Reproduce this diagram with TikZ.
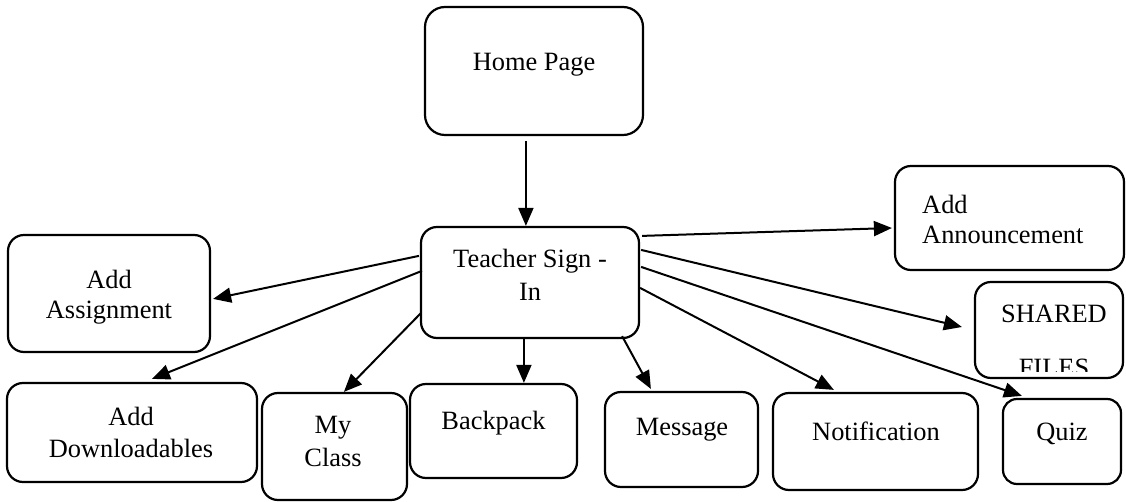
\documentclass[tikz,border=0pt]{standalone}
\usepackage{fontspec}
\setmainfont{Liberation Serif}
\usetikzlibrary{arrows.meta,calc}
\begin{document}
\begin{tikzpicture}[x=1pt,y=-1pt,
  box/.style={draw, line width=2.2pt, rounded corners=16pt, inner sep=0pt},
  txt/.style={inner sep=0pt, anchor=north, align=center, font=\fontsize{26.4}{32}\selectfont},
  conn/.style={-{Triangle[length=18pt,width=15pt]}, line width=2pt}]
\useasboundingbox (0,0) rectangle (1126,502);
% boxes
\node[box, rounded corners=20pt, minimum width=218pt, minimum height=128pt] (home) at (534,71) {};
\node[box, minimum width=218pt, minimum height=111pt] (teach) at (530,282.5) {};
\node[box, minimum width=229pt, minimum height=104pt] (ann) at (1009.5,218) {};
\node[box, minimum width=202pt, minimum height=117pt] (assign) at (109,293.5) {};
\node[box, minimum width=148pt, minimum height=96pt] (shared) at (1049,330) {};
\node[box, minimum width=250pt, minimum height=99pt] (down) at (132,432.5) {};
\node[box, minimum width=145pt, minimum height=107pt] (myclass) at (334.5,446.5) {};
\node[box, minimum width=167pt, minimum height=94pt] (bp) at (493.5,431) {};
\node[box, minimum width=153pt, minimum height=95pt] (msg) at (681.5,439.5) {};
\node[box, minimum width=205pt, minimum height=97pt] (notif) at (875.5,441.5) {};
\node[box, rounded corners=14pt, minimum width=118pt, minimum height=85pt] (quiz) at (1062,441.5) {};
% texts
\node[txt] (homeT) at (534,53.2) {Home Page};
\node[txt, font=\fontsize{26.4}{33}\selectfont] (teachT) at (530,249.2) {Teacher Sign -\\In};
\node[txt, anchor=north west, align=left, font=\fontsize{26.4}{30}\selectfont] (annT) at (922,195.2) {Add\\Announcement};
\node[txt, font=\fontsize{26.4}{29.5}\selectfont] (assignT) at (109,270.2) {Add\\Assignment};
\begin{scope}
  \clip ($(shared.north west)+(2,2)$) rectangle ($(shared.south east)+(-2,-8)$);
  \node[txt, font=\fontsize{26.4}{54}\selectfont] (sharedT) at (1054,304.8) {SHARED\\FILES};
\end{scope}
\node[txt] (downT) at (131,407.2) {Add\\Downloadables};
\node[txt, font=\fontsize{26.4}{33}\selectfont] (myclassT) at (333,415.8) {My\\Class};
\node[txt] (bpT) at (493.5,411.2) {Backpack};
\node[txt] (msgT) at (682,417.8) {Message};
\node[txt] (notifT) at (876,422.2) {Notification};
\node[txt] (quizT) at (1062,422.8) {Quiz};
% connectors
\draw[conn] ($(home.south west)+(102,5)$) -- ($(teach.north west)+(106,0)$);
\draw[conn] ($(teach.north east)+(2,10)$) -- ($(ann.west)+(-2,10)$);
\draw[conn] ($(teach.north east)+(1,24)$) -- ($(shared.west)+(-12,-3)$);
\draw[conn] ($(teach.north east)+(1,41)$) -- ($(quiz.north west)+(20,-2)$);
\draw[conn] ($(teach.north east)+(0,62)$) -- ($(notif.north west)+(62,-2)$);
\draw[conn] ($(teach.south east)+(-18,-3)$) -- ($(msg.north west)+(47,-2)$);
\draw[conn] ($(teach.south west)+(104,0)$) -- ($(bp.north west)+(115,0)$);
\draw[conn] ($(teach.south west)+(1,-26)$) -- ($(myclass.north west)+(83,0)$);
\draw[conn] ($(teach.north west)+(2,45)$) -- ($(down.north west)+(146,-3)$);
\draw[conn] ($(teach.north west)+(-1,30)$) -- ($(assign.north east)+(2,65)$);
\end{tikzpicture}
\end{document}
